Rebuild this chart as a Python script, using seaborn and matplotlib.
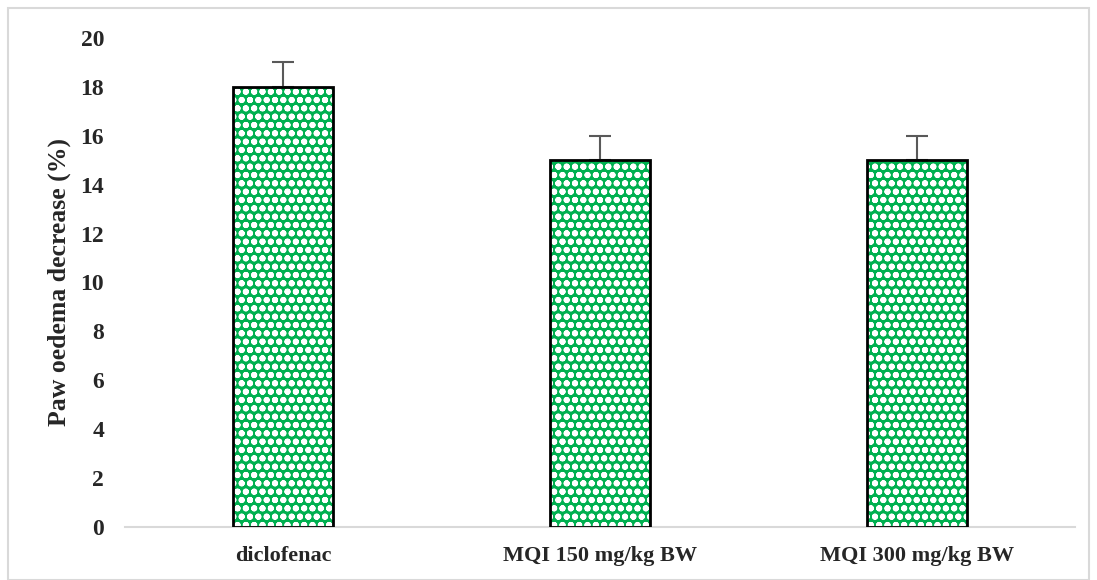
import matplotlib
matplotlib.use("Agg")
import matplotlib.pyplot as plt
import seaborn as sns
import pandas as pd
from matplotlib.patches import Rectangle

categories = ["diclofenac", "MQI 150 mg/kg BW", "MQI 300 mg/kg BW"]
values = [18, 15, 15]
errors = [1, 1, 1]

sns.set_theme(style="white")
plt.rcParams['font.family'] = ['Liberation Serif', 'DejaVu Serif']
plt.rcParams['font.weight'] = 'bold'
plt.rcParams['hatch.linewidth'] = 2.0

df = pd.DataFrame({"cat": categories, "val": values})

fig = plt.figure(figsize=(10.97, 5.80), dpi=100)
ax = fig.add_axes([125/1097, 1 - 527/580, 950/1097, (527-38)/580])

sns.barplot(data=df, x="cat", y="val", ax=ax, color="#00B050", width=0.315,
            saturation=1, errorbar=None, linewidth=0, edgecolor="white")
for p in ax.patches:
    p.set_hatch("oo")
    p.set_edgecolor("white")
    p.set_linewidth(0)
# black outlines
for p in list(ax.patches):
    ax.add_patch(Rectangle(p.get_xy(), p.get_width(), p.get_height(),
                           fill=False, edgecolor="black", linewidth=2, zorder=3))

ax.errorbar(range(len(categories)), values, yerr=[[0]*3, errors], fmt="none",
            ecolor="#595959", elinewidth=1.5, capsize=8, capthick=1.5, zorder=2)

ax.set_ylim(0, 20)
ax.set_xlim(-0.5, 2.5)
ax.set_yticks(range(0, 21, 2))
ax.tick_params(axis="both", length=0)
ax.tick_params(axis="x", labelsize=16, pad=14)
ax.tick_params(axis="y", labelsize=17, pad=15)
for lbl in ax.get_xticklabels() + ax.get_yticklabels():
    lbl.set_fontweight("bold")
ax.set_xlabel("")
ax.set_ylabel("Paw oedema decrease (%)", fontsize=18.5, fontweight="bold", labelpad=7)

for s in ["top", "right", "left"]:
    ax.spines[s].set_visible(False)
ax.spines["bottom"].set_color("#d9d9d9")
ax.spines["bottom"].set_linewidth(1.5)

fig.patches.append(Rectangle((8/1097, 0), 1 - 16/1097, 1 - 8/580, transform=fig.transFigure,
                             fill=False, edgecolor="#d9d9d9", linewidth=1.5))

fig.savefig("out.png", dpi=100)
